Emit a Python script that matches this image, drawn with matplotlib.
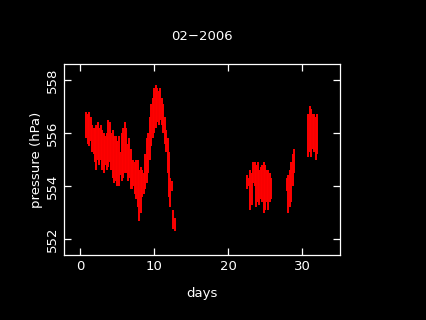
import matplotlib
matplotlib.use("Agg")
import matplotlib.pyplot as plt

# daily-ish ranges of pressure (day, low, high in hPa)
days = [0.8, 1.0, 1.2, 1.4, 1.6, 1.8, 2.0, 2.2, 2.4, 2.6, 2.8, 3.0, 3.2, 3.4, 3.6, 3.8,
        4.0, 4.2, 4.4, 4.6, 4.8, 5.0, 5.2, 5.4, 5.6, 5.8, 6.0, 6.2, 6.4, 6.6, 6.8, 7.0,
        7.2, 7.4, 7.6, 7.8, 8.0, 8.2, 8.4, 8.6, 8.8, 9.0, 9.2, 9.4, 9.6, 9.8, 10.0, 10.2,
        10.4, 10.6, 10.8, 11.0, 11.2, 11.4, 11.6, 11.8, 12.0, 12.2, 12.4, 12.6, 12.8,
        22.6, 22.8, 23.0, 23.2, 23.4, 23.6, 23.8, 24.0, 24.2, 24.4, 24.6, 24.8, 25.0,
        25.2, 25.4, 25.6, 25.8,
        27.9, 28.1, 28.3, 28.5, 28.7, 28.9,
        30.8, 31.0, 31.2, 31.4, 31.6, 31.8, 32.0]
low = [555.8, 555.6, 555.5, 555.7, 555.3, 555.2, 554.9, 554.6, 555.0, 554.8, 555.0, 554.6,
       554.5, 554.8, 554.6, 554.7, 554.9, 554.6, 554.3, 554.1, 554.2, 554.0, 554.0, 554.4,
       554.2, 554.3, 554.5, 554.5, 554.2, 554.3, 553.9, 553.9, 554.0, 553.7, 553.5, 553.2,
       552.7, 553.0, 553.6, 553.7, 553.9, 554.1, 554.5, 555.0, 555.5, 555.8, 556.0, 556.2,
       556.4, 556.3, 556.5, 556.3, 556.0, 555.6, 555.3, 554.5, 553.6, 553.2, 553.8, 552.4,
       552.3,
       553.9, 554.0, 553.1, 553.3, 554.1, 554.0, 553.2, 553.4, 553.3, 553.5, 553.4, 553.0,
       553.1, 553.4, 553.1, 553.4, 553.5,
       553.8, 553.0, 553.2, 553.4, 554.0, 554.5,
       555.1, 555.3, 555.1, 555.4, 555.3, 555.0, 555.2]
high = [556.8, 556.7, 556.8, 556.6, 556.3, 556.2, 556.2, 556.3, 556.4, 556.2, 556.3, 556.1,
        556.0, 555.9, 556.0, 556.5, 556.4, 556.0, 556.1, 555.9, 555.9, 555.7, 555.9, 555.3,
        556.0, 556.2, 556.4, 556.2, 555.6, 555.8, 555.4, 555.0, 555.0, 554.9, 555.0, 555.0,
        554.6, 554.7, 554.6, 554.5, 555.2, 555.8, 556.0, 556.6, 557.1, 557.3, 557.7, 557.8,
        557.7, 557.6, 557.7, 557.3, 557.1, 556.6, 556.1, 555.8, 555.3, 554.3, 554.2, 553.1,
        552.8,
        554.4, 554.3, 554.6, 554.5, 554.9, 554.9, 554.8, 554.9, 554.6, 554.7, 554.8, 554.9,
        554.8, 554.6, 554.6, 554.5, 554.3,
        554.3, 554.4, 554.6, 554.9, 555.2, 555.4,
        556.7, 557.0, 556.9, 556.7, 556.7, 556.6, 556.7]

plt.rcParams['font.family'] = 'DejaVu Sans'
fig = plt.figure(figsize=(4.26, 3.2), dpi=100, facecolor='black')
ax = fig.add_axes([0.150, 0.203, 0.648, 0.597], facecolor='black')

ax.vlines(days, low, high, colors='red', linewidth=1.4)

ax.set_xlim(-2.2, 35.1)
ax.set_ylim(551.4, 558.6)
ax.set_xticks([0, 10, 20, 30])
ax.set_yticks([552, 554, 556, 558])
for s in ax.spines.values():
    s.set_color('white')
    s.set_linewidth(0.9)
ax.tick_params(direction='in', length=5, width=0.9, colors='white',
               top=True, right=True, labelsize=9.5)
for lab in ax.get_yticklabels():
    lab.set_rotation(90)
    lab.set_va('center')

ax.set_xlabel('days', color='white', fontsize=9.5, labelpad=10)
ax.set_ylabel('pressure (hPa)', color='white', fontsize=9.5, labelpad=2)
fig.text(0.474, 0.885, '02\u22122006', color='white', fontsize=9.5, ha='center', va='center')

fig.savefig('out.png', dpi=100, facecolor='black')
